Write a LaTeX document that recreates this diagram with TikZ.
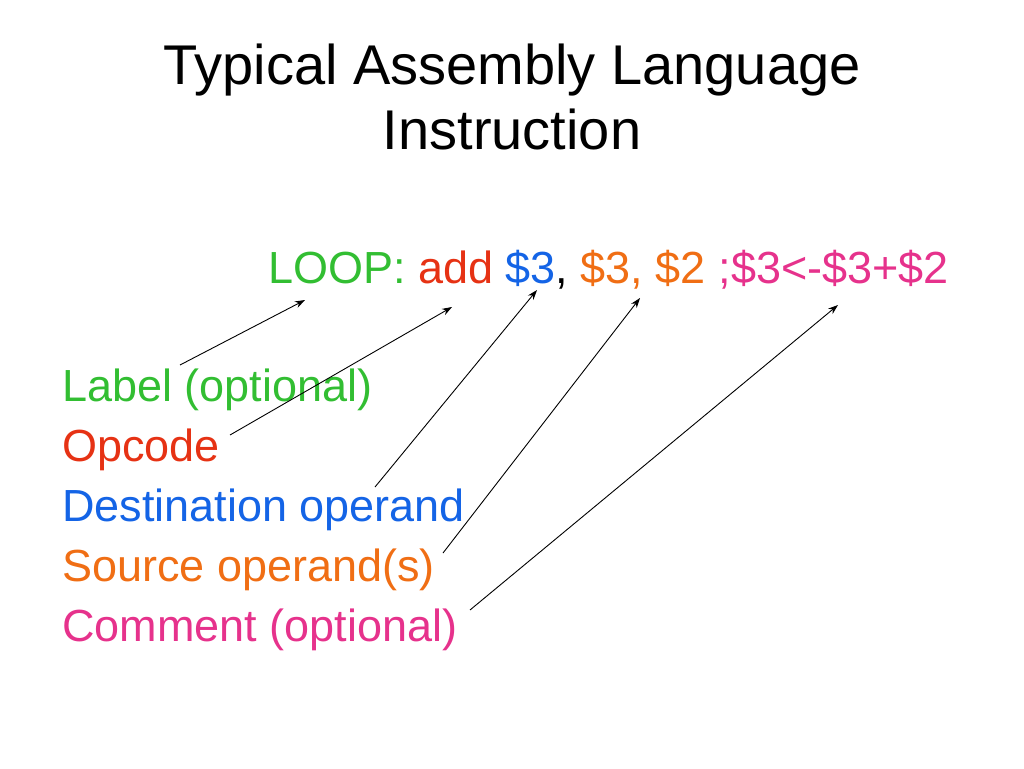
\documentclass[tikz,border=0pt]{standalone}
\usepackage{fontspec}
\setmainfont{Liberation Sans}
\usetikzlibrary{arrows.meta}
\definecolor{cgreen}{RGB}{50,190,50}
\definecolor{cred}{RGB}{230,50,20}
\definecolor{cblue}{RGB}{20,100,230}
\definecolor{corange}{RGB}{240,110,20}
\definecolor{cpink}{RGB}{230,50,140}
\begin{document}
\begin{tikzpicture}[x=1pt,y=-1pt,
  title/.style={font=\fontsize{56}{65}\selectfont,align=center},
  item/.style={font=\fontsize{45}{54}\selectfont,anchor=west,inner sep=0pt},
  conn/.style={-{Stealth[length=10pt,width=7pt]},line width=0.9pt}]
\useasboundingbox (0,0) rectangle (1024,768);
\node[title] (t) at (512,97) {Typical Assembly Language\\Instruction};
\node[item,anchor=base west] (ins) at (268,283) {\textcolor{cgreen}{LOOP:} \textcolor{cred}{add} \textcolor{cblue}{\$3}, \textcolor{corange}{\$3, \$2} \textcolor{cpink}{;\$3<-\$3+\$2}};
\node[item,text=cgreen] (l1) at (62,390) {Label (optional)};
\node[item,text=cred] (l2) at (62,450) {Opcode};
\node[item,text=cblue] (l3) at (62,510) {Destination operand};
\node[item,text=corange] (l4) at (62,570) {Source operand(s)};
\node[item,text=cpink] (l5) at (62,630) {Comment (optional)};
\coordinate (s1) at (180,365); \coordinate (e1) at (305,300);
\coordinate (s2) at (230,435); \coordinate (e2) at (452,307);
\coordinate (s3) at (375,487); \coordinate (e3) at (537,290);
\coordinate (s4) at (443,553); \coordinate (e4) at (640,298);
\coordinate (s5) at (470,610); \coordinate (e5) at (838,305);
\foreach \i in {1,...,5} \draw[conn] (s\i) -- (e\i);
\end{tikzpicture}
\end{document}
